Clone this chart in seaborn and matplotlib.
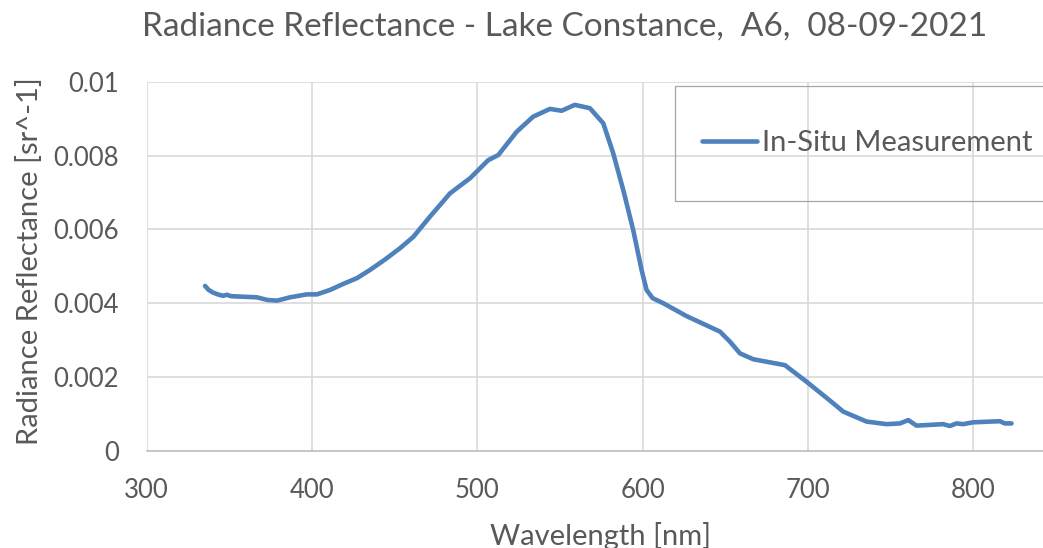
import matplotlib
matplotlib.use("Agg")
import matplotlib.pyplot as plt
from matplotlib.patches import Rectangle
import seaborn as sns
import pandas as pd

wavelength_nm = [335.3, 337.5, 340.1, 343.0, 346.2, 348.5, 351.0, 356.4, 361.5, 366.7, 372.8, 378.8,
                 386.7, 396.9, 403.0, 410.9, 418.7, 427.2, 435.0, 444.0, 453.2, 461.3, 471.4, 483.5,
                 495.6, 506.6, 512.7, 523.8, 533.8, 543.9, 551.0, 559.0, 568.1, 576.2, 582.2, 588.3,
                 594.3, 599.4, 602.4, 606.0, 612.5, 626.6, 646.8, 652.8, 658.9, 667.0, 686.1, 699.2,
                 713.3, 721.4, 735.5, 747.6, 755.7, 760.7, 765.7, 781.8, 785.9, 789.9, 793.9, 800.0,
                 816.1, 819.1, 823.2]
reflectance = [0.00447, 0.00436, 0.00429, 0.00424, 0.00420, 0.00423, 0.00419, 0.00418, 0.00417, 0.00416,
               0.00409, 0.00407, 0.00416, 0.00424, 0.00424, 0.00436, 0.00452, 0.00468, 0.00490, 0.00518,
               0.00549, 0.00580, 0.00635, 0.00698, 0.00739, 0.00788, 0.00802, 0.00865, 0.00906, 0.00927,
               0.00922, 0.00938, 0.00929, 0.00888, 0.00807, 0.00707, 0.00599, 0.00490, 0.00436, 0.00414,
               0.00400, 0.00365, 0.00323, 0.00296, 0.00264, 0.00248, 0.00232, 0.00187, 0.00136, 0.00106,
               0.00079, 0.00072, 0.00074, 0.00083, 0.00068, 0.00072, 0.00067, 0.00074, 0.00072, 0.00077,
               0.00080, 0.00074, 0.00074]
series_name = "In-Situ Measurement"
x_ticks = [300, 400, 500, 600, 700, 800]
y_ticks = [0, 0.002, 0.004, 0.006, 0.008, 0.01]
y_tick_labels = ["0", "0.002", "0.004", "0.006", "0.008", "0.01"]

sns.set_theme(style="white")
plt.rcParams["font.family"] = ["Lato", "DejaVu Sans"]
TXT = "#595959"

W, H = 1043, 548
fig = plt.figure(figsize=(W / 100, H / 100), dpi=100)
x0, x1 = 146.7, 146.7 + 5.5 * 165.3
y_top, y_bot = 82.0, 450.7
ax = fig.add_axes([x0 / W, 1 - y_bot / H, (x1 - x0) / W, (y_bot - y_top) / H])

df = pd.DataFrame({"Wavelength": wavelength_nm, "Reflectance": reflectance, "Series": series_name})
sns.lineplot(data=df, x="Wavelength", y="Reflectance", hue="Series", palette=["#4F81BD"],
             linewidth=3.3, ax=ax, legend=True, solid_capstyle="round", solid_joinstyle="round")

ax.set_xlim(300, 850)
ax.set_ylim(0, 0.01)
ax.set_xticks(x_ticks)
ax.set_yticks(y_ticks)
ax.set_yticklabels(y_tick_labels)
ax.grid(True, color="#d9d9d9", linewidth=1.2)
ax.set_axisbelow(True)
for s in ["top", "right", "left"]:
    ax.spines[s].set_visible(False)
ax.spines["bottom"].set_color("#bfbfbf")
ax.spines["bottom"].set_linewidth(1.2)
ax.tick_params(axis="both", length=0, labelsize=18.5, colors=TXT)
ax.tick_params(axis="y", pad=20)
ax.tick_params(axis="x", pad=20)

ax.set_xlabel("Wavelength [nm]", fontsize=21, color=TXT)
ax.set_ylabel("Radiance Reflectance [sr^-1]", fontsize=21, color=TXT)
ax.xaxis.set_label_coords(601 / W, 1 - 522 / H, transform=fig.transFigure)
ax.yaxis.set_label_coords(43 / W, 1 - 261 / H, transform=fig.transFigure)

fig.text(565 / W, 1 - 27 / H, "Radiance Reflectance - Lake Constance,  A6,  08-09-2021",
         ha="center", va="center", fontsize=24, color=TXT)

leg = ax.legend(loc="center left", bbox_to_anchor=(702 / W, 1 - 143 / H), bbox_transform=fig.transFigure,
                frameon=False, fontsize=21, borderpad=0, borderaxespad=0, handlelength=1.9,
                handletextpad=0.14)
for t in leg.get_texts():
    t.set_color(TXT)
for l in leg.get_lines():
    l.set_linewidth(3.3)
fig.patches.append(Rectangle((674.7 / W, 1 - 200.7 / H), 0.45, (200.7 - 86) / H,
                             transform=fig.transFigure, fill=False, edgecolor="#a6a6a6",
                             linewidth=0.9, figure=fig))

fig.savefig("out.png", dpi=100)
